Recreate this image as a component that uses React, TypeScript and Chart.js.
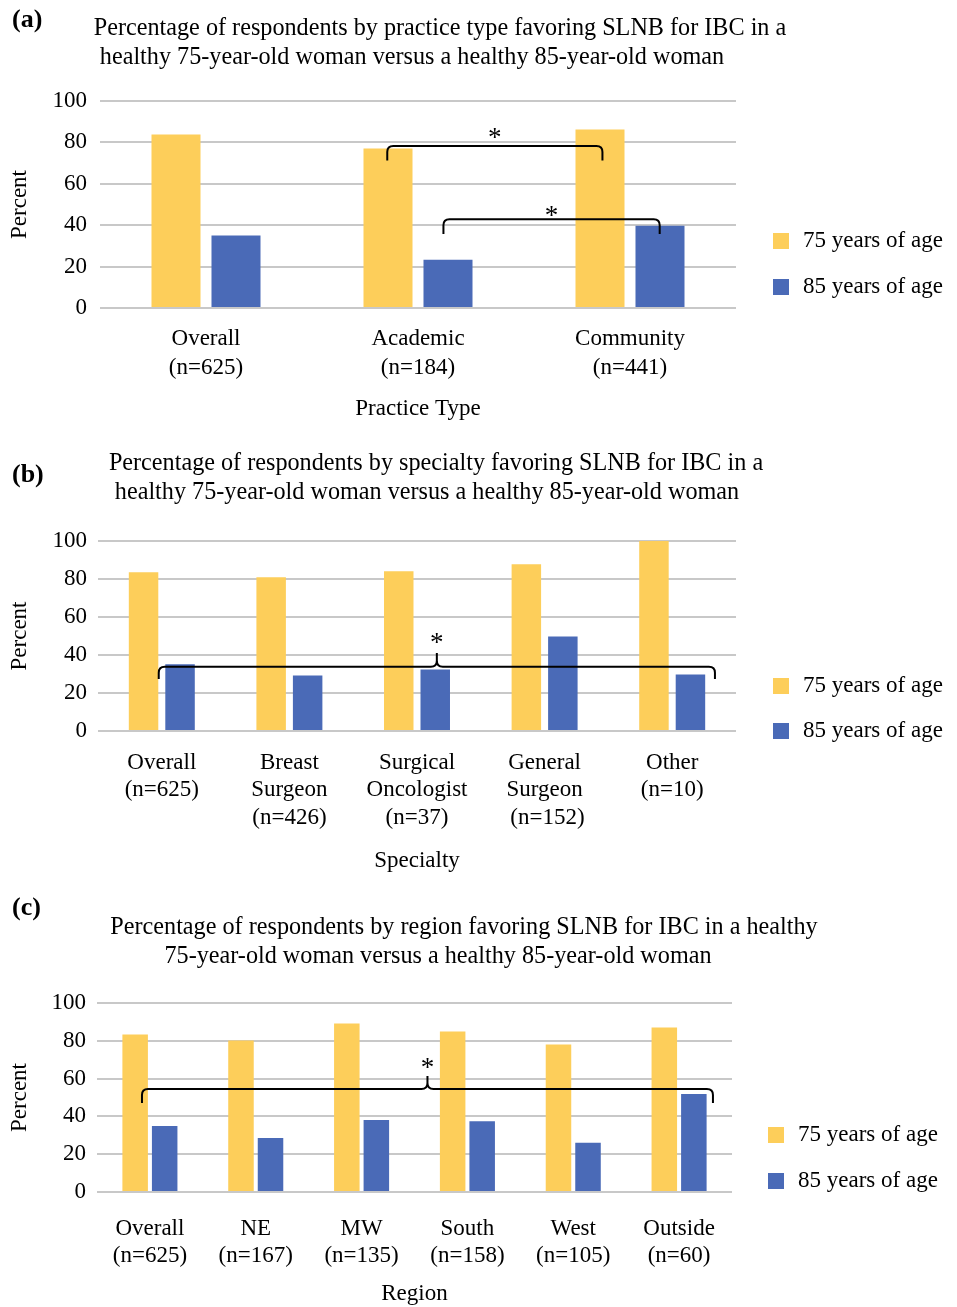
import React, { useEffect, useRef } from "react";
import { Chart, registerables } from "chart.js";

Chart.register(...registerables);

const FONT = "'Liberation Serif', 'Times New Roman', Times, serif";
const YELLOW = "#FDCE5A";
const BLUE = "#4A6AB7";
const GRID = "#C8C8C8";
const INK = "#000000";

// ---------- data ----------
const seriesLabels = ["75 years of age", "85 years of age"];
const yAxisTitle = "Percent";

// (a) practice type
const practiceTitle = [
  "Percentage of respondents by practice type favoring SLNB for IBC in a",
  "healthy 75-year-old woman versus a healthy 85-year-old woman",
];
const practiceCategories = [
  ["Overall", "(n=625)"],
  ["Academic", "(n=184)"],
  ["Community", "(n=441)"],
];
const practice75 = [83.8, 77.0, 86.2];
const practice85 = [35.0, 23.3, 39.7];
// brackets: [fromIndex, toIndex, topValue, endValue, starValue]
const practiceBrackets = [
  [0.855, 1.87, 78.3, 71.3, 84.8],
  [1.12, 2.14, 42.9, 35.7, 47.3],
];

// (b) specialty
const specialtyTitle = [
  "Percentage of respondents by specialty favoring SLNB for IBC in a",
  "healthy 75-year-old woman versus a healthy 85-year-old woman",
];
const specialtyCategories = [
  ["Overall", "(n=625)"],
  ["Breast", "Surgeon", "(n=426)"],
  ["Surgical", "Oncologist", "(n=37)"],
  ["General", "Surgeon", " (n=152)"],
  ["Other", "(n=10)"],
];
const specialty75 = [83.6, 80.9, 84.1, 87.8, 100];
const specialty85 = [35.1, 29.2, 32.4, 49.8, 29.8];
// braces: [fromIndex, toIndex, lineValue, endValue, tipValue, starValue]
const specialtyBraces = [[-0.024, 4.335, 33.8, 27.4, 41.0, 49.5]];

// (c) region
const regionTitle = [
  "Percentage of respondents by region favoring SLNB for IBC in a healthy",
  "75-year-old woman versus a healthy 85-year-old woman",
];
const regionCategories = [
  ["Overall", "(n=625)"],
  ["NE", "(n=167)"],
  ["MW", "(n=135)"],
  ["South", "(n=158)"],
  ["West", "(n=105)"],
  ["Outside", "(n=60)"],
];
const region75 = [83.3, 80.2, 89.1, 84.9, 78.1, 87.0];
const region85 = [34.9, 28.6, 38.1, 37.5, 26.0, 51.8];
const regionBraces = [[-0.075, 5.32, 54.5, 47.1, 61.4, 68.8]];

// ---------- drawing helpers ----------
function drawBracket(ctx: CanvasRenderingContext2D, x1: number, x2: number, yTop: number, yEnd: number) {
  const r = 6;
  ctx.beginPath();
  ctx.moveTo(x1, yEnd);
  ctx.lineTo(x1, yTop + r);
  ctx.quadraticCurveTo(x1, yTop, x1 + r, yTop);
  ctx.lineTo(x2 - r, yTop);
  ctx.quadraticCurveTo(x2, yTop, x2, yTop + r);
  ctx.lineTo(x2, yEnd);
  ctx.stroke();
}

function drawBrace(ctx: CanvasRenderingContext2D, x1: number, x2: number, yLine: number, yEnd: number, yTip: number) {
  const r = 6;
  const xm = (x1 + x2) / 2;
  ctx.beginPath();
  ctx.moveTo(x1, yEnd);
  ctx.lineTo(x1, yLine + r);
  ctx.quadraticCurveTo(x1, yLine, x1 + r, yLine);
  ctx.lineTo(xm - r, yLine);
  ctx.quadraticCurveTo(xm, yLine, xm, yLine - r);
  ctx.lineTo(xm, yTip);
  ctx.moveTo(xm, yLine - r);
  ctx.quadraticCurveTo(xm, yLine, xm + r, yLine);
  ctx.lineTo(x2 - r, yLine);
  ctx.quadraticCurveTo(x2, yLine, x2, yLine + r);
  ctx.lineTo(x2, yEnd);
  ctx.stroke();
}

function drawStar(ctx: CanvasRenderingContext2D, x: number, y: number) {
  ctx.font = `27px ${FONT}`;
  ctx.textAlign = "center";
  ctx.textBaseline = "alphabetic";
  ctx.fillText("*", x, y + 14);
}

type Panel = {
  top: number;
  height: number;
  tag: string;
  tagPos: [number, number];
  title: string[];
  titlePos: [number, number][];
  labels: string[][];
  s75: number[];
  s85: number[];
  plotLeft: number;
  plotRight: number;
  plotTop: number;
  plotBottom: number;
  yTickPad: number;
  xTickPad: number;
  xLineH: number;
  xTitle: string;
  xTitlePad: number;
  catPct: number;
  barPct: number;
  legendBoxX: number;
  legendTextX: number;
  legendYs: number[];
  brackets?: number[][];
  braces?: number[][];
};

const panels: Panel[] = [
  {
    top: 0,
    height: 430,
    tag: "(a)",
    tagPos: [12, 20],
    title: practiceTitle,
    titlePos: [
      [440, 29],
      [412, 58],
    ],
    labels: practiceCategories,
    s75: practice75,
    s85: practice85,
    plotLeft: 100,
    plotRight: 736,
    plotTop: 101,
    plotBottom: 308,
    yTickPad: 13,
    xTickPad: 16.5,
    xLineH: 29,
    xTitle: "Practice Type",
    xTitlePad: 8.5,
    catPct: 0.566,
    barPct: 0.817,
    legendBoxX: 773,
    legendTextX: 803,
    legendYs: [241, 287],
    brackets: practiceBrackets,
  },
  {
    top: 440,
    height: 440,
    tag: "(b)",
    tagPos: [12, 35],
    title: specialtyTitle,
    titlePos: [
      [436, 24],
      [427, 53],
    ],
    labels: specialtyCategories,
    s75: specialty75,
    s85: specialty85,
    plotLeft: 98,
    plotRight: 736,
    plotTop: 101,
    plotBottom: 291,
    yTickPad: 11,
    xTickPad: 18,
    xLineH: 27.5,
    xTitle: "Specialty",
    xTitlePad: 6.5,
    catPct: 0.572,
    barPct: 0.808,
    legendBoxX: 773,
    legendTextX: 803,
    legendYs: [246, 291],
    braces: specialtyBraces,
  },
  {
    top: 890,
    height: 417,
    tag: "(c)",
    tagPos: [12, 18],
    title: regionTitle,
    titlePos: [
      [464, 38],
      [438, 67],
    ],
    labels: regionCategories,
    s75: region75,
    s85: region85,
    plotLeft: 97,
    plotRight: 732,
    plotTop: 113,
    plotBottom: 302,
    yTickPad: 11,
    xTickPad: 23,
    xLineH: 27,
    xTitle: "Region",
    xTitlePad: 0,
    catPct: 0.558,
    barPct: 0.864,
    legendBoxX: 768,
    legendTextX: 798,
    legendYs: [245, 291],
    braces: regionBraces,
  },
];

function PanelChart({ p }: { p: Panel }) {
  const ref = useRef<HTMLCanvasElement>(null);

  useEffect(() => {
    const canvas = ref.current;
    if (!canvas) return;

    const annotations = {
      id: "panelExtras",
      afterDraw(chart: any) {
        const ctx: CanvasRenderingContext2D = chart.ctx;
        const xs = chart.scales.x;
        const ys = chart.scales.y;
        ctx.save();
        ctx.fillStyle = INK;
        ctx.strokeStyle = INK;

        // panel tag
        ctx.font = `bold 26px ${FONT}`;
        ctx.textAlign = "left";
        ctx.textBaseline = "middle";
        ctx.fillText(p.tag, p.tagPos[0], p.tagPos[1]);

        // title
        ctx.font = `24.2px ${FONT}`;
        ctx.textAlign = "center";
        p.title.forEach((line, i) => {
          ctx.fillText(line, p.titlePos[i][0], p.titlePos[i][1]);
        });

        // legend
        const colors = [YELLOW, BLUE];
        ctx.font = `23px ${FONT}`;
        ctx.textAlign = "left";
        ctx.textBaseline = "middle";
        chart.data.datasets.forEach((ds: any, i: number) => {
          const cy = p.legendYs[i];
          ctx.fillStyle = colors[i];
          ctx.fillRect(p.legendBoxX, cy - 8, 16, 16);
          ctx.fillStyle = INK;
          ctx.fillText(ds.label, p.legendTextX, cy);
        });

        // significance brackets
        ctx.lineWidth = 2;
        (p.brackets || []).forEach((b) => {
          const x1 = xs.getPixelForValue(b[0]);
          const x2 = xs.getPixelForValue(b[1]);
          drawBracket(ctx, x1, x2, ys.getPixelForValue(b[2]), ys.getPixelForValue(b[3]));
          drawStar(ctx, (x1 + x2) / 2, ys.getPixelForValue(b[4]));
        });
        (p.braces || []).forEach((b) => {
          const x1 = xs.getPixelForValue(b[0]);
          const x2 = xs.getPixelForValue(b[1]);
          drawBrace(
            ctx,
            x1,
            x2,
            ys.getPixelForValue(b[2]),
            ys.getPixelForValue(b[3]),
            ys.getPixelForValue(b[4])
          );
          drawStar(ctx, (x1 + x2) / 2, ys.getPixelForValue(b[5]));
        });
        ctx.restore();
      },
    };

    const chart = new Chart(canvas, {
      type: "bar",
      data: {
        labels: p.labels,
        datasets: [
          {
            label: seriesLabels[0],
            data: p.s75,
            backgroundColor: YELLOW,
            categoryPercentage: p.catPct,
            barPercentage: p.barPct,
          },
          {
            label: seriesLabels[1],
            data: p.s85,
            backgroundColor: BLUE,
            categoryPercentage: p.catPct,
            barPercentage: p.barPct,
          },
        ],
      },
      options: {
        responsive: false,
        animation: false,
        devicePixelRatio: 1,
        layout: {
          padding: { top: p.plotTop, right: 957 - p.plotRight, bottom: 0, left: 0 },
        },
        plugins: {
          legend: { display: false },
          title: { display: false },
          tooltip: { enabled: false },
        },
        scales: {
          x: {
            grid: { display: false, drawTicks: false },
            border: { display: false },
            ticks: {
              color: INK,
              font: { family: FONT, size: 23, lineHeight: p.xLineH / 23 },
              padding: p.xTickPad,
              maxRotation: 0,
              minRotation: 0,
              autoSkip: false,
            },
            title: {
              display: true,
              text: p.xTitle,
              color: INK,
              font: { family: FONT, size: 23, lineHeight: 1.1 },
              padding: { top: 0, bottom: p.xTitlePad },
            },
            afterFit: (s: any) => {
              s.height = p.height - p.plotBottom;
            },
          },
          y: {
            min: 0,
            max: 100,
            ticks: {
              stepSize: 20,
              color: INK,
              font: { family: FONT, size: 23 },
              padding: p.yTickPad,
            },
            grid: { color: GRID, lineWidth: 2, drawTicks: false },
            border: { display: false },
            title: {
              display: true,
              text: yAxisTitle,
              color: INK,
              font: { family: FONT, size: 23, lineHeight: 1.2 },
              padding: { top: 6.2, bottom: 0 },
            },
            afterFit: (s: any) => {
              s.width = p.plotLeft;
            },
          },
        },
      } as any,
      plugins: [annotations],
    });

    return () => chart.destroy();
  }, [p]);

  return (
    <canvas
      ref={ref}
      width={957}
      height={p.height}
      style={{ position: "absolute", left: 0, top: p.top, width: 957, height: p.height, display: "block" }}
    />
  );
}

export default function App() {
  return (
    <div
      style={{
        position: "absolute",
        left: 0,
        top: 0,
        width: 957,
        height: 1307,
        background: "#ffffff",
        overflow: "hidden",
      }}
    >
      {panels.map((p) => (
        <PanelChart key={p.tag} p={p} />
      ))}
    </div>
  );
}
